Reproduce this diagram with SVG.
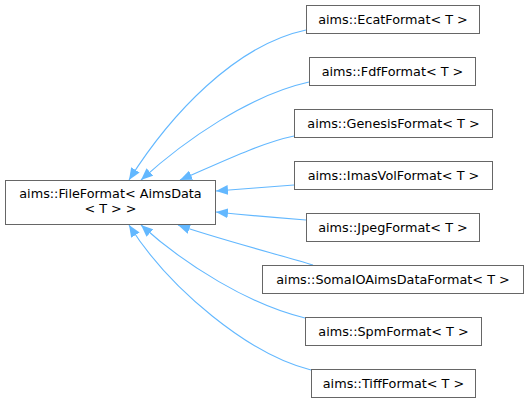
<svg xmlns="http://www.w3.org/2000/svg" width="528" height="402" viewBox="0 0 528 402">
<style>
.box{fill:#ffffff;stroke:#666666;stroke-width:1}
.lbl{font-family:"DejaVu Sans",sans-serif;font-size:12.8px;fill:#000000;text-anchor:middle}
.edge{fill:none;stroke:#63b8ff;stroke-width:1.1}
</style>
<defs>
<marker id="ah" viewBox="0 0 12 10" refX="12" refY="5" markerWidth="12" markerHeight="10" markerUnits="userSpaceOnUse" orient="auto">
<polygon points="0,0 12,5 0,10" fill="#63b8ff"/>
</marker>
</defs>
<rect width="528" height="402" fill="#ffffff"/>
<g id="connectors">
<path class="edge" marker-end="url(#ah)" d="M306,30 C235,45 170,115 129,180"/>
<path class="edge" marker-end="url(#ah)" d="M309,82 C250,95 185,140 141,180"/>
<path class="edge" marker-end="url(#ah)" d="M294,136 C260,143 215,165 180,180"/>
<path class="edge" marker-end="url(#ah)" d="M294,185 C270,187 240,189 216,191"/>
<path class="edge" marker-end="url(#ah)" d="M306,220 C280,218 245,215 216,212"/>
<path class="edge" marker-end="url(#ah)" d="M313,265 C280,255 215,238 178,225"/>
<path class="edge" marker-end="url(#ah)" d="M305,318 C250,305 185,265 141,225"/>
<path class="edge" marker-end="url(#ah)" d="M311,370 C250,355 170,290 129,225"/>
</g>
<g id="node-base">
<rect class="box" x="5.5" y="180.5" width="210" height="44"/>
<text class="lbl" x="110.5" y="197.5">aims::FileFormat&lt; AimsData</text>
<text class="lbl" x="110.5" y="213">&lt; T &gt; &gt;</text>
</g>
<g id="node-ecat">
<rect class="box" x="306.5" y="5.5" width="173" height="28"/>
<text class="lbl" x="393" y="24">aims::EcatFormat&lt; T &gt;</text>
</g>
<g id="node-fdf">
<rect class="box" x="309.5" y="57.5" width="166" height="28"/>
<text class="lbl" x="392.5" y="76">aims::FdfFormat&lt; T &gt;</text>
</g>
<g id="node-genesis">
<rect class="box" x="294.5" y="109.5" width="198" height="28"/>
<text class="lbl" x="393.5" y="128">aims::GenesisFormat&lt; T &gt;</text>
</g>
<g id="node-imasvol">
<rect class="box" x="294.5" y="161.5" width="198" height="28"/>
<text class="lbl" x="393.5" y="180">aims::ImasVolFormat&lt; T &gt;</text>
</g>
<g id="node-jpeg">
<rect class="box" x="306.5" y="213.5" width="173" height="28"/>
<text class="lbl" x="393" y="232">aims::JpegFormat&lt; T &gt;</text>
</g>
<g id="node-somaio">
<rect class="box" x="262.5" y="265.5" width="261" height="28"/>
<text class="lbl" x="393" y="284">aims::SomaIOAimsDataFormat&lt; T &gt;</text>
</g>
<g id="node-spm">
<rect class="box" x="305.5" y="317.5" width="176" height="28"/>
<text class="lbl" x="393.5" y="336">aims::SpmFormat&lt; T &gt;</text>
</g>
<g id="node-tiff">
<rect class="box" x="311.5" y="369.5" width="164" height="28"/>
<text class="lbl" x="393.5" y="388">aims::TiffFormat&lt; T &gt;</text>
</g>
</svg>
